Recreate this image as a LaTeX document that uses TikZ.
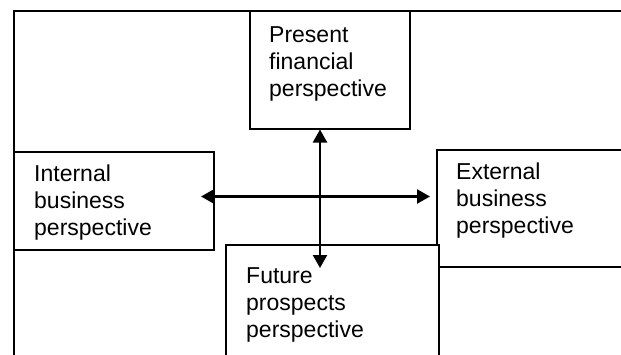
\documentclass[tikz,border=0pt]{standalone}
\usepackage{fontspec}
\setmainfont{Liberation Sans}
\usetikzlibrary{arrows.meta}
\begin{document}
\begin{tikzpicture}[x=1pt,y=-1pt,
  box/.style={draw=black, fill=white, line width=1.5pt, inner sep=0pt, anchor=north west},
  label/.style={anchor=base west, inner sep=0pt, align=left, font=\fontsize{23}{26.8}\selectfont},
  link/.style={line width=2.3pt, {Triangle[length=13pt,width=14pt]}-{Triangle[length=13pt,width=14pt]}}]
\useasboundingbox (0,0) rectangle (621,354);
\clip (0,0) rectangle (621,354);
\node[box, minimum width=640pt, minimum height=370pt] (frame) at (13,10) {};
\node[box, minimum width=160pt, minimum height=118pt] (present) at (249,10) {};
\node[box, minimum width=200pt, minimum height=98pt] (internal) at (13,151) {};
\node[box, minimum width=204pt, minimum height=117pt] (external) at (436,149) {};
\node[box, minimum width=213pt, minimum height=126pt] (future) at (225,244) {};
\node[label] (tpresent) at (269,96) {Present\\financial\\perspective};
\node[label] (tinternal) at (34,235) {Internal\\business\\perspective};
\node[label] (texternal) at (456,233) {External\\business\\perspective};
\node[label] (tfuture) at (246,337) {Future\\prospects\\perspective};
\coordinate (vbot) at (320,268);
\coordinate (hl) at (201,196.5);
\coordinate (hr) at (430,196.5);
\draw[link] (present.south -| vbot) -- (vbot);
\draw[link] (hl) -- (hr);
\end{tikzpicture}
\end{document}
